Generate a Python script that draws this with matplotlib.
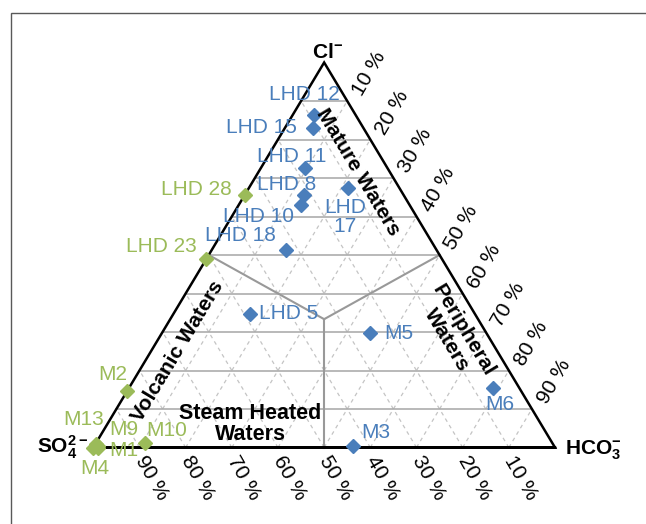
import matplotlib
matplotlib.use("Agg")
import numpy as np
import matplotlib.pyplot as plt
from matplotlib.patches import Rectangle

plt.rcParams['font.family'] = ['Liberation Sans', 'DejaVu Sans']
plt.rcParams['mathtext.fontset'] = 'custom'
plt.rcParams['mathtext.rm'] = 'Liberation Sans'
plt.rcParams['mathtext.bf'] = 'Liberation Sans:bold'

# ---------------- data (percent) ----------------
blue_names = ['LHD 12', 'LHD 15', 'LHD 11', 'LHD 8', 'LHD 10', 'LHD\n17',
              'LHD 18', 'LHD 5', 'M5', 'M6', 'M3']
blue_cl = [86.4, 82.9, 72.7, 65.6, 63.0, 67.5, 51.3, 34.7, 29.7, 15.5, 0.4]
blue_hco3 = [4.5, 6.2, 9.6, 12.9, 13.5, 21.5, 16.0, 16.6, 45.1, 78.9, 56.1]
blue_so4 = [9.1, 10.9, 17.7, 21.5, 23.5, 11.0, 32.7, 48.7, 25.2, 5.6, 43.5]

green_names = ['LHD 28', 'LHD 23', 'M2', 'M10', 'M13', 'M9', 'M1', 'M4']
green_cl = [65.6, 49.0, 14.8, 1.1, 1.0, 0.5, 0.0, 0.0]
green_hco3 = [0.0, 0.0, 0.0, 10.6, 0.0, 0.8, 1.0, 0.0]
green_so4 = [34.4, 51.0, 85.2, 88.3, 99.0, 98.7, 99.0, 100.0]

tick_values = [10, 20, 30, 40, 50, 60, 70, 80, 90]
right_tick_labels = ['10 %', '20 %', '30 %', '40 %', '50 %', '60 %', '70 %', '80 %', '90 %']
bottom_tick_labels = ['90 %', '80 %', '70 %', '60 %', '50 %', '40 %', '30 %', '20 %', '10 %']

# label offsets in pixels (x right, y down) relative to marker
blue_offsets = [(-9, -20), (-52, -1), (-14, -11), (-17.5, -10), (-42.5, 12), (-3, 29.5),
                (-45, -14.5), (39, 0), (29, 0), (6, 16.5), (22.5, -13.5)]
green_offsets = [(-48, -5), (-45.5, -12), (-15, -16.5), (22, -13), (-11.6, -24),
                 (26, -16), (25.4, 2.7), (1.7, 21)]

BLUE = '#4a7ebb'
GREEN = '#9bbb59'


def to_xy(cl, hco3):
    # cartesian: x along SO4->HCO3 base, y = Cl fraction
    return np.asarray(hco3) / 100.0 + np.asarray(cl) / 200.0, np.asarray(cl) / 100.0


W, H = 646, 524
fig = plt.figure(figsize=(W / 100, H / 100), dpi=100)
x0, x1, yb, yt = 93.3, 555.0, 447.5, 62.5
ax = fig.add_axes([x0 / W, (H - yb) / H, (x1 - x0) / W, (yb - yt) / H])
ax.set_xlim(0, 1)
ax.set_ylim(0, 1)
ax.axis('off')

# outer frame (only left/top visible)
fig.add_artist(Rectangle((10.5 / W, -0.2), 1.5, 1.2 - 12.5 / H,
                         transform=fig.transFigure, fill=False,
                         edgecolor='#595959', lw=1.0))

# dashed grid lines (constant HCO3 and constant SO4)
for v in tick_values:
    xa, ya = to_xy(0, v)
    xb, yb_ = to_xy(100 - v, v)
    ax.plot([xa, xb], [ya, yb_], color='#c4c4c4', lw=0.9, ls=(0, (3, 3)), clip_on=False, zorder=1)
    xa, ya = to_xy(0, 100 - v)
    xb, yb_ = to_xy(100 - v, 0)
    ax.plot([xa, xb], [ya, yb_], color='#c4c4c4', lw=0.9, ls=(0, (3, 3)), clip_on=False, zorder=1)

# horizontal solid grid lines (constant Cl)
for v in tick_values:
    xa, ya = to_xy(v, 0)
    xb, yb_ = to_xy(v, 100 - v)
    ax.plot([xa, xb], [ya, yb_], color='#a6a6a6', lw=1.1, clip_on=False, zorder=2)

# field boundaries
c = 100 / 3
pj = to_xy(c, c)
for cl_e, hc_e in [(50, 0), (50, 50), (0, 50)]:
    pe = to_xy(cl_e, hc_e)
    ax.plot([pe[0], pj[0]], [pe[1], pj[1]], color='#999999', lw=1.5, clip_on=False, zorder=3)

# triangle outline
ax.plot([0, 1, 0.5, 0, 1], [0, 0, 1, 0, 0], color='black', lw=1.8, clip_on=False, zorder=4,
        solid_joinstyle='miter')

# tick labels
for v, lab in zip(tick_values, right_tick_labels):
    x, y = to_xy(100 - v, v)
    ax.annotate(lab, (x, y), xytext=(22, 27), textcoords='offset pixels',
                ha='center', va='center', rotation=60, fontsize=15, annotation_clip=False)
for v, lab in zip(tick_values, bottom_tick_labels):
    x, y = to_xy(0, v)
    ax.annotate(lab, (x, y), xytext=(12, -30), textcoords='offset pixels',
                ha='center', va='center', rotation=-60, fontsize=15, annotation_clip=False)

# data points
bx, by = to_xy(blue_cl, blue_hco3)
gx, gy = to_xy(green_cl, green_hco3)
ax.plot(gx, gy, 'D', color=GREEN, ms=7, ls='none', clip_on=False, zorder=6)
ax.plot(bx, by, 'D', color=BLUE, ms=7, ls='none', clip_on=False, zorder=6)

for name, x, y, (dx, dy) in zip(blue_names, bx, by, blue_offsets):
    ax.annotate(name, (x, y), xytext=(dx, -dy), textcoords='offset pixels', ha='center',
                va='center', color=BLUE, fontsize=15, linespacing=1.0,
                multialignment='center', annotation_clip=False, zorder=7)
for name, x, y, (dx, dy) in zip(green_names, gx, gy, green_offsets):
    ax.annotate(name, (x, y), xytext=(dx, -dy), textcoords='offset pixels', ha='center',
                va='center', color=GREEN, fontsize=15, annotation_clip=False, zorder=7)

# vertex labels
ax.annotate(r'$\mathbf{Cl^{-}}$', (0.5, 1), xytext=(3, 4), textcoords='offset pixels',
            ha='center', va='baseline', fontsize=15, annotation_clip=False)
ax.annotate(r'$\mathbf{SO_4^{2-}}$', (0, 0), xytext=(-5, -6), textcoords='offset pixels',
            ha='right', va='baseline', fontsize=15, annotation_clip=False)
ax.annotate(r'$\mathbf{HCO_3^{-}}$', (1, 0), xytext=(10, -7), textcoords='offset pixels',
            ha='left', va='baseline', fontsize=15, annotation_clip=False)


def px(xp, yp):
    return xp / W, 1 - yp / H


fig.text(*px(358, 172), 'Mature Waters', rotation=-59, ha='center', va='center',
         fontsize=15.2, fontweight='bold')
fig.text(*px(177.5, 351), 'Volcanic Waters', rotation=59, ha='center', va='center',
         fontsize=15.2, fontweight='bold')
fig.text(*px(455, 335), 'Peripheral\nWaters', rotation=-59, ha='center', va='center',
         fontsize=15.2, fontweight='bold', linespacing=1.0, multialignment='center')
fig.text(*px(250, 424), 'Steam Heated\nWaters', ha='center', va='center',
         fontsize=15.5, fontweight='bold', linespacing=1.0, multialignment='center')

fig.savefig('out.png', dpi=100)
